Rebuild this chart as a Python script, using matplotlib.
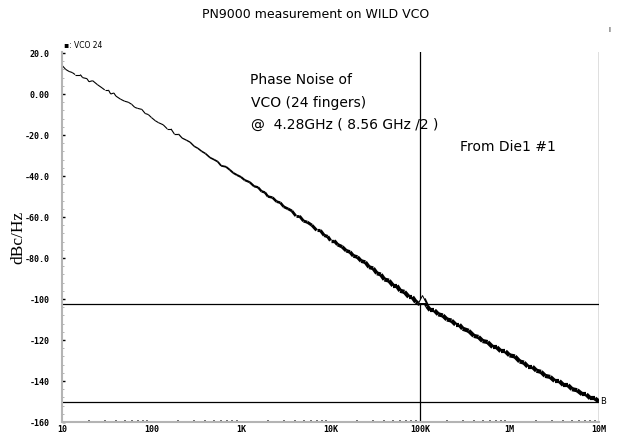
import numpy as np
import matplotlib
matplotlib.use("Agg")
import matplotlib.pyplot as plt
from matplotlib.collections import LineCollection
from matplotlib.ticker import FixedLocator, NullFormatter

# phase noise trace (offset freq in Hz, dBc/Hz)
freq = [10, 11, 12, 13, 14, 16, 17, 19, 20, 22, 25, 28, 30, 33, 35, 38, 40, 45, 50, 55,
        60, 65, 70, 78, 85, 92, 100, 110, 120, 135, 150, 165, 180, 200, 220, 245, 270, 300,
        330, 365, 400, 450, 500, 550, 600, 680, 750, 820, 900, 1000, 1100, 1250, 1400,
        1550, 1700, 1850, 2000, 2250, 2500, 2750, 3000, 3350, 3700, 4100, 4500, 5000, 5500,
        6200, 7000, 7700, 8500, 9300, 10000, 11000, 12000, 13500, 15000, 16500, 18000,
        20000, 22000, 24500, 27000, 30000, 33000, 36500, 40000, 45000, 50000, 55000, 60000,
        67000, 75000, 82000, 90000, 95000, 100000, 105000, 110000, 120000, 130000, 145000,
        160000, 180000, 200000, 225000, 250000, 275000, 300000, 350000, 400000, 450000,
        500000, 570000, 650000, 720000, 800000, 900000, 1000000, 1150000, 1300000, 1450000,
        1600000, 1800000, 2000000, 2250000, 2500000, 2850000, 3200000, 3600000, 4000000,
        4500000, 5000000, 5700000, 6500000, 7200000, 8000000, 9000000, 10000000]
pn_dbc = [14.0, 12.0, 11.0, 10.5, 9.5, 9.5, 8.0, 7.5, 6.0, 6.5, 4.5, 3.0, 2.0, 2.0, 0.0, 0.5,
          -1.0, -2.5, -3.5, -4.0,
          -5.0, -6.5, -7.0, -7.5, -9.5, -10.0, -11.5, -13.0, -14.0, -15.0, -17.0, -17.0,
          -19.5, -19.5, -21.5, -22.5, -23.5, -25.5,
          -26.5, -28.0, -29.0, -31.0, -32.0, -33.0, -35.0, -35.5, -37.0, -38.5, -39.5, -40.5,
          -42.0, -43.0, -45.0,
          -45.5, -47.5, -48.0, -50.0, -50.5, -52.5, -53.0, -55.0, -56.0, -57.0, -59.5, -59.5,
          -62.0, -62.5,
          -64.0, -66.5, -66.5, -69.0, -69.5, -71.5, -71.5, -73.5, -74.5, -76.5, -77.0, -79.0,
          -79.5, -81.5, -82.0, -84.5, -85.0, -87.5, -88.0, -90.5, -91.0, -93.5, -93.5, -96.0,
          -96.5, -99.0, -99.0, -101.5, -102.0, -102.5, -101.0, -100.0, -103.5, -105.5, -105.5,
          -107.5, -108.0, -110.0, -110.5, -112.5, -112.5, -114.5, -115.5, -118.0, -118.5,
          -120.5, -121.0, -123.5, -123.5, -125.5, -125.5, -127.5, -128.0, -130.5, -131.0,
          -133.0, -133.0, -135.0, -135.5, -137.5, -138.0, -140.0, -140.0, -142.0,
          -142.0, -144.0, -144.5, -146.5, -146.5, -148.5, -148.5, -150.0]

# marker lines
marker_freq = 100e3
marker_a = -102.5
marker_b = -150.0

xticks = [10, 100, 1e3, 1e4, 1e5, 1e6, 1e7]
xlabels = ["10", "100", "1K", "10K", "100K", "1M", "10M"]
yticks = [20, 0, -20, -40, -60, -80, -100, -120, -140, -160]
ylabels = ["20.0", "0.00", "-20.0", "-40.0", "-60.0", "-80.0", "-100", "-120", "-140", "-160"]

fig = plt.figure(figsize=(6.19, 4.41), dpi=100)
ax = fig.add_axes([62/619, 19/441, 537/619, 370/441])

# trace gets denser (darker) towards high offsets, fake that with line width
f = np.array(freq, dtype=float)
p = np.array(pn_dbc)
pts = np.column_stack([np.log10(f), p]).reshape(-1, 1, 2)
segs = np.concatenate([pts[:-1], pts[1:]], axis=1)
lw = 0.8 + 2.2*np.clip((np.log10(f[:-1]) - 2.2)/2.5, 0, 1)
ax.add_collection(LineCollection(segs, colors="k", linewidths=lw))

ax.axhline(marker_a, color="k", lw=0.9)
ax.axhline(marker_b, color="k", lw=0.9)
ax.axvline(np.log10(marker_freq), color="k", lw=0.9)
ax.axvline(7, color="k", lw=0.9)
ax.plot(np.log10(marker_freq) + 0.02, marker_a + 2.5, marker="^", mfc="white", mec="k", ms=6, mew=0.7)
ax.text(7.01, marker_b, "B", fontsize=6, va="center", ha="left")

ax.set_xlim(1, 7)
ax.set_ylim(-160, 20.5)

ax.set_xticks(np.log10(xticks))
ax.set_xticklabels(xlabels, family="DejaVu Sans Mono", fontsize=6, fontweight="bold")
minor_x = [np.log10(m*d) for d in xticks[:-1] for m in range(2, 10)]
ax.xaxis.set_minor_locator(FixedLocator(minor_x))
ax.set_yticks(yticks)
ax.set_yticklabels(ylabels, family="DejaVu Sans Mono", fontsize=6, fontweight="bold")
ax.yaxis.set_minor_locator(FixedLocator(np.arange(-160, 21, 4)))
ax.yaxis.set_minor_formatter(NullFormatter())

ax.tick_params(axis="x", which="major", direction="in", length=0, pad=2)
ax.tick_params(axis="x", which="minor", direction="in", length=1.5, width=1.2, color="#555555")
ax.tick_params(axis="y", which="major", direction="in", length=2, width=1, color="k", pad=9)
ax.tick_params(axis="y", which="minor", direction="in", length=1.2, width=0.6, color="#aaaaaa")

for s in ["top", "right"]:
    ax.spines[s].set_visible(False)
for s in ["left", "bottom"]:
    ax.spines[s].set_color("#b4b4b4")
    ax.spines[s].set_linewidth(1.5)

ax.set_ylabel("dBc/Hz", family="Liberation Serif", fontsize=12.5, labelpad=-1)

fig.text(316/619, 1 - 15/441, "PN9000 measurement on WILD VCO", fontsize=9, ha="center", va="center")
fig.text(609/619, 1 - 30/441, "I", fontsize=5, ha="center", va="center")
fig.text(64/619, 1 - 46/441, "\u25aa: VCO 24", fontsize=5.5, ha="left", va="center")

ax.text(250/619, 1 - 80/441, "Phase Noise of", transform=fig.transFigure, fontsize=10, va="center")
ax.text(251/619, 1 - 103/441, "VCO (24 fingers)", transform=fig.transFigure, fontsize=10, va="center")
ax.text(251/619, 1 - 125/441, "@  4.28GHz ( 8.56 GHz /2 )", transform=fig.transFigure, fontsize=10, va="center")
ax.text(460/619, 1 - 147/441, "From Die1 #1", transform=fig.transFigure, fontsize=10, va="center")

fig.savefig("out.png", dpi=100)
